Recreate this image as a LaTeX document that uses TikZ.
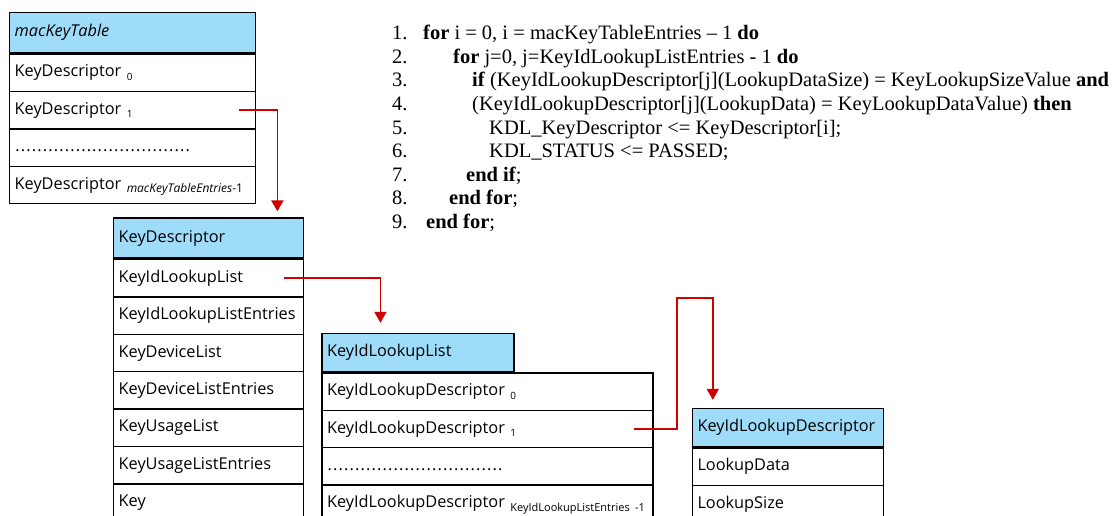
\documentclass[tikz,border=0pt]{standalone}
\usepackage{fontspec}
\setmainfont{Liberation Serif}
\setsansfont{Open Sans}
\usetikzlibrary{shapes,positioning,calc,arrows.meta}
\definecolor{hdrblue}{RGB}{158,220,249}
\colorlet{linkred}{red!82!black}
\newcommand{\rowsub}[2][10]{\raisebox{-3.5pt}{\fontsize{#1}{#1}\selectfont #2}}
\newcommand{\rowh}{\rule[-14pt]{0pt}{36pt}}
\newcommand{\dotrow}[1]{\hbox to #1{\xleaders\hbox to 5.4pt{\hss.\hss}\hfill}}

\begin{document}
\begin{tikzpicture}[x=1pt,y=1pt,
  relation/.style={rectangle split, rectangle split parts=#1, draw, line width=1.4pt, font=\sffamily\fontsize{16.3}{18}\selectfont, align=left, text height=22pt, text depth=14pt, inner ysep=0pt, inner xsep=5pt},
  titulo/.style={draw, line width=1.4pt, fill=hdrblue, font=\sffamily\fontsize{16.3}{18}\selectfont, align=left, text height=23pt, text depth=15pt, inner ysep=0pt, inner xsep=5pt},
  link/.style={draw=linkred, line width=1.8pt, -{Triangle[width=12pt,length=11pt]}}]

\useasboundingbox (0,0) rectangle (1113,-516);
\clip (0,0) rectangle (1113,-516);

% TABLES

\node [titulo, text width=236pt, text height=24pt, text depth=16pt, anchor=north west] (mac-titulo) at (9,-12) {\textit{macKeyTable}};

\node [relation=4, text width=236pt, below=0pt of mac-titulo.south west, anchor=north west] (mac)
{KeyDescriptor \rowsub{0}
\nodepart{two}\rowh KeyDescriptor \rowsub{1}
\nodepart{three}\rowh \dotrow{176pt}
\nodepart{four}\rowh KeyDescriptor \rowsub[12]{\textit{macKeyTableEntries}-1}
};

\node [titulo, text width=180pt, text height=24pt, text depth=16pt, below right=13pt and 104pt of mac.south west] (kd-titulo) {KeyDescriptor};

\node [relation=7, text width=180pt, below=0pt of kd-titulo.south west, anchor=north west] (kd)
{KeyIdLookupList
\nodepart{two}\rowh KeyIdLookupListEntries
\nodepart{three}\rowh KeyDeviceList
\nodepart{four}\rowh KeyDeviceListEntries
\nodepart{five}\rowh KeyUsageList
\nodepart{six}\rowh KeyUsageListEntries
\nodepart{seven}\rowh Key
};

\node [titulo, text width=182pt, below right=74pt and 17pt of kd-titulo.south east] (kl-titulo) {KeyIdLookupList};

\node [relation=4, text width=321pt, below=0pt of kl-titulo.south west, anchor=north west] (kl)
{KeyIdLookupDescriptor \rowsub{0}
\nodepart{two}\rowh KeyIdLookupDescriptor \rowsub{1}
\nodepart{three}\rowh \dotrow{176pt}
\nodepart{four}\rowh KeyIdLookupDescriptor \rowsub[11]{KeyIdLookupListEntries -1}
};

\node [titulo, text width=181pt, below right=75pt and 177pt of kl-titulo.north east] (kild-titulo) {KeyIdLookupDescriptor};

\node [relation=2, text width=181pt, below=0pt of kild-titulo.south west, anchor=north west] (kild)
{LookupData
\nodepart{two}\rowh LookupSize
};

% PSEUDOCODE

\node [anchor=north west, inner sep=0pt, font=\fontsize{20.5}{23.6}\selectfont] (code) at (392,-23)
{\begin{tabular}{@{}p{31pt}@{}l@{}}
1. & \textbf{for} i = 0, i = macKeyTableEntries – 1 \textbf{do}\\
2. & \hspace*{30pt}\textbf{for} j=0, j=KeyIdLookupListEntries - 1 \textbf{do}\\
3. & \hspace*{49pt}\textbf{if} (KeyIdLookupDescriptor[j](LookupDataSize) = KeyLookupSizeValue \textbf{and}\\
4. & \hspace*{49pt}(KeyIdLookupDescriptor[j](LookupData) = KeyLookupDataValue) \textbf{then}\\
5. & \hspace*{66pt}KDL\_KeyDescriptor <= KeyDescriptor[i];\\
6. & \hspace*{66pt}KDL\_STATUS <= PASSED;\\
7. & \hspace*{43pt}\textbf{end if};\\
8. & \hspace*{26pt}\textbf{end for};\\
9. & \hspace*{3pt}\textbf{end for};
\end{tabular}};

% LINKS

\coordinate (mac-ref) at ($(mac.text split east)!0.5!(mac.two split east)+(-17pt,0)$);
\coordinate (kd-ref) at ($(kd-titulo.south east)!0.5!(kd.text split east)+(-20pt,0)$);
\coordinate (kl-ref) at ($(kl.text split east)!0.5!(kl.two split east)+(-20pt,0)$);

\draw [link, shorten >=6pt] (mac-ref) -| ([xshift=-27pt]kd-titulo.north east);
\draw [link, shorten >=10pt] (kd-ref) -| ([xshift=59pt]kl-titulo.north west);
\draw [link, shorten >=8pt] (kl-ref) -- ++(43pt,0) -- ++(0,131pt) -| ([xshift=21pt]kild-titulo.north west);

\end{tikzpicture}
\end{document}
